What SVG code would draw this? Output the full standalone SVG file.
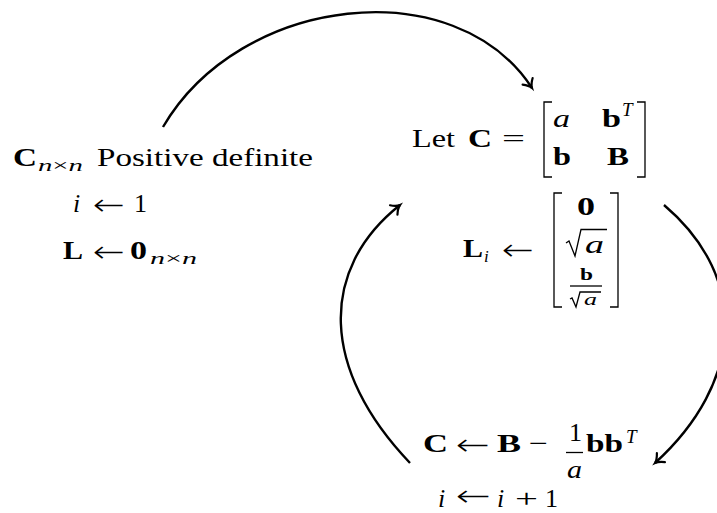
<svg xmlns="http://www.w3.org/2000/svg" width="717" height="513" viewBox="0 0 717 513">
<defs>
<style>
.t{font-family:"Liberation Serif","DejaVu Serif",serif;font-size:26px;fill:#000}
.b{font-weight:bold}
.i{font-style:italic}
.s{font-size:17px}
.sup{font-size:19px}
.ar{font-family:"DejaVu Sans",sans-serif;font-weight:200;font-size:30px;fill:#000}
.br{fill:none;stroke:#000;stroke-width:1.3}
.edge{fill:none;stroke:#000;stroke-width:2.4;marker-end:url(#ah)}
</style>
<marker id="ah" markerUnits="userSpaceOnUse" markerWidth="20" markerHeight="20" viewBox="-10 -10 20 20" refX="0" refY="0" orient="auto">
<path d="M-8,-6 C-5,-2.5 -2,-0.6 0,0 C-2,0.6 -5,2.5 -8,6" fill="none" stroke="#000" stroke-width="2.2" stroke-linecap="round"/>
</marker>
</defs>
<rect width="717" height="513" fill="#fff"/>

<g id="start">
<text class="t b" x="13" y="166" textLength="24" lengthAdjust="spacingAndGlyphs">C</text>
<text class="t s" x="38" y="171" textLength="45" lengthAdjust="spacingAndGlyphs"><tspan class="i">n</tspan>×<tspan class="i">n</tspan></text>
<text class="t" x="97" y="166" textLength="216" lengthAdjust="spacingAndGlyphs">Positive definite</text>
<text class="t i" x="73" y="212">i</text>
<text class="ar" x="93" y="215" textLength="32" lengthAdjust="spacingAndGlyphs">←</text>
<text class="t" x="134" y="212">1</text>
<text class="t b" x="63" y="259" textLength="20" lengthAdjust="spacingAndGlyphs">L</text>
<text class="ar" x="93" y="262" textLength="32" lengthAdjust="spacingAndGlyphs">←</text>
<text class="t b" x="130" y="259" textLength="17" lengthAdjust="spacingAndGlyphs">0</text>
<text class="t s" x="150" y="264" textLength="47" lengthAdjust="spacingAndGlyphs"><tspan class="i">n</tspan>×<tspan class="i">n</tspan></text>
</g>

<g id="partition">
<text class="t" x="412" y="147" textLength="43" lengthAdjust="spacingAndGlyphs">Let</text>
<text class="t b" x="468" y="147" textLength="24" lengthAdjust="spacingAndGlyphs">C</text>
<text class="t" x="502" y="147" textLength="23" lengthAdjust="spacingAndGlyphs">=</text>
<path class="br" d="M552,102 H544 V177 H552"/>
<path class="br" d="M637,102 H645 V177 H637"/>
<text class="t i" x="553" y="127" textLength="17" lengthAdjust="spacingAndGlyphs">a</text>
<text class="t b" x="602" y="127" textLength="19" lengthAdjust="spacingAndGlyphs">b</text>
<text class="t i sup" x="622" y="116">T</text>
<text class="t b" x="553" y="165" textLength="18" lengthAdjust="spacingAndGlyphs">b</text>
<text class="t b" x="607" y="165" textLength="22" lengthAdjust="spacingAndGlyphs">B</text>
</g>

<g id="column">
<text class="t b" x="463" y="257" textLength="20" lengthAdjust="spacingAndGlyphs">L</text>
<text class="t i s" x="484" y="262">i</text>
<text class="ar" x="502" y="260" textLength="32" lengthAdjust="spacingAndGlyphs">←</text>
<path class="br" d="M562,193 H554 V307 H562"/>
<path class="br" d="M610,193 H618 V307 H610"/>
<text class="t b" x="577" y="215" textLength="18" lengthAdjust="spacingAndGlyphs">0</text>
<path class="br" d="M566,243 L569,241 L575,256 L581,229.5 H607"/>
<text class="t i" x="585" y="253" textLength="19" lengthAdjust="spacingAndGlyphs">a</text>
<text class="t b s" x="580" y="280" textLength="13" lengthAdjust="spacingAndGlyphs">b</text>
<path class="br" d="M570,286 H602"/>
<path class="br" stroke-width="1" d="M570,299 L572,298 L576,307 L580,292 H601"/>
<text class="t i s" x="584" y="305" textLength="13" lengthAdjust="spacingAndGlyphs">a</text>
</g>

<g id="update">
<text class="t b" x="423" y="452" textLength="25" lengthAdjust="spacingAndGlyphs">C</text>
<text class="ar" x="456" y="455" textLength="34" lengthAdjust="spacingAndGlyphs">←</text>
<text class="t b" x="497" y="452" textLength="24" lengthAdjust="spacingAndGlyphs">B</text>
<text class="t" x="529" y="452" textLength="19" lengthAdjust="spacingAndGlyphs">−</text>
<text class="t" x="569" y="441">1</text>
<path class="br" d="M566,452.5 H583"/>
<text class="t i" x="567" y="478" textLength="15" lengthAdjust="spacingAndGlyphs">a</text>
<text class="t b" x="586" y="452" textLength="37" lengthAdjust="spacingAndGlyphs">bb</text>
<text class="t i sup" x="626" y="443">T</text>
<text class="t i" x="438" y="507">i</text>
<text class="ar" x="456" y="506" textLength="35" lengthAdjust="spacingAndGlyphs">←</text>
<text class="t i" x="497" y="507">i</text>
<text class="t" x="515" y="507" textLength="23" lengthAdjust="spacingAndGlyphs">+</text>
<text class="t" x="545" y="507">1</text>
</g>

<g id="connectors">
<path class="edge" d="M163,127 C240,-5 455,-30 532,88"/>
<path class="edge" d="M410,463 C321,370 318,270 400,205"/>
<path class="edge" d="M664,205 C751,279 743,383 655,463"/>
</g>
</svg>
